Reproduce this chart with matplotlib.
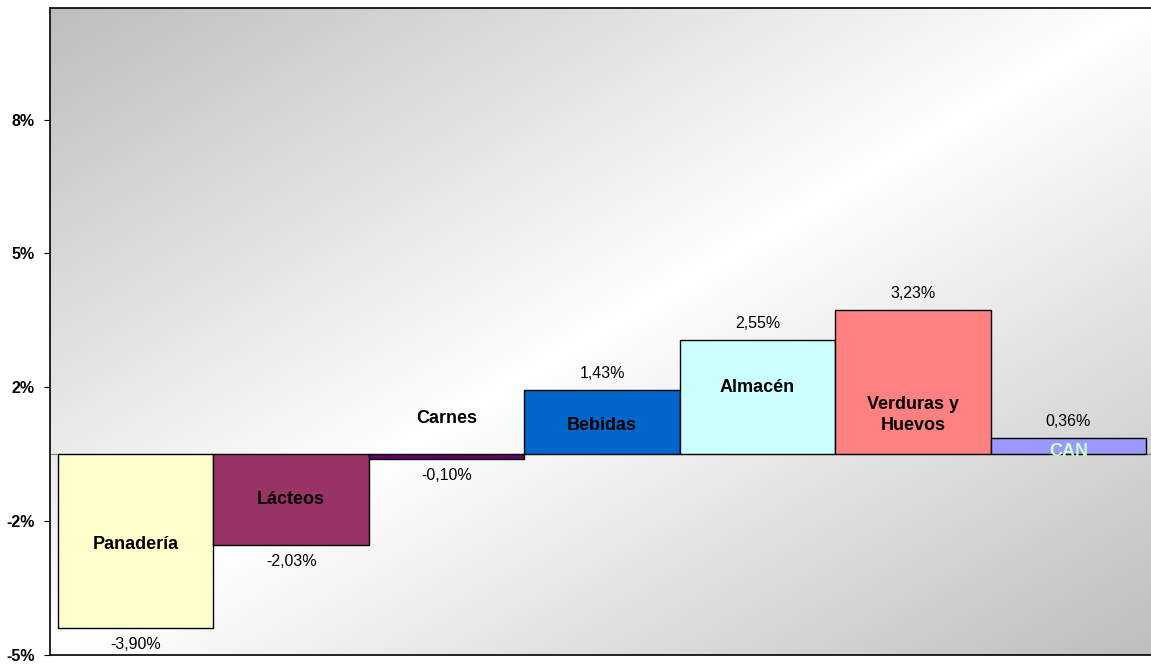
import numpy as np
import matplotlib.pyplot as plt
from matplotlib.colors import LinearSegmentedColormap

plt.rcParams["font.family"] = ["Liberation Sans", "DejaVu Sans"]

categories = ["Panadería", "Lácteos", "Carnes", "Bebidas", "Almacén", "Verduras y\nHuevos", "CAN"]
values = [-3.90, -2.03, -0.10, 1.43, 2.55, 3.23, 0.36]
colors = ["#FFFFCC", "#993366", "#660066", "#0066CC", "#CCFFFF", "#FF8080", "#9999FF"]
# where the category names sit (data units), as in the original
name_y = [-2.02, -1.01, 0.81, 0.65, 1.50, 0.88, 0.07]
name_colors = ["black", "black", "black", "black", "black", "black", "#CCFFCC"]
ytick_values = [-4.5, -1.5, 1.5, 4.5, 7.5]
ytick_labels = ["-5%", "-2%", "2%", "5%", "8%"]

fig = plt.figure(figsize=(11.51, 6.64), dpi=100)
ax = fig.add_axes([50 / 1151, 9 / 664, 1.0 - 50 / 1151, 1 - 17 / 664])

x = np.arange(len(categories))
unit = 155.4
ax.set_xlim(-0.5 - 8 / unit, 6.5 + 5 / unit)
ax.set_ylim(-4.5, 10)

# diagonal gradient background: gray corners, white in the middle
h, w = 200, 200
u = np.linspace(0, 1, w)[None, :]
v = np.linspace(0, 1, h)[:, None]
d = (u + v) / 2
shade = np.abs(d - 0.5) * 2
cmap = LinearSegmentedColormap.from_list("bg", ["#FFFFFF", "#BEBEBE"])
ax.imshow(shade, cmap=cmap, extent=[0, 1, 0, 1], transform=ax.transAxes,
          aspect="auto", zorder=0, vmin=0, vmax=1, interpolation="bilinear")

ax.axhline(0, color="#808080", linewidth=0.8, zorder=1)
ax.bar(x, values, width=1.0, color=colors, edgecolor="black", linewidth=1.0, zorder=2)

for i, (name, val) in enumerate(zip(categories, values)):
    ax.text(x[i], name_y[i], name, ha="center", va="center", fontsize=13,
            fontweight="bold", color=name_colors[i], zorder=3, linespacing=1.25)
    lbl = f"{val:.2f}%".replace(".", ",")
    ax.annotate(lbl, (x[i], val), xytext=(0, 12 if val > 0 else -12),
                textcoords="offset points", ha="center", va="center",
                fontsize=11.5, zorder=3)

ax.set_yticks(ytick_values)
ax.set_yticklabels(ytick_labels, fontweight="bold", fontsize=11.5)
ax.tick_params(axis="y", length=4, width=0.8, direction="out", pad=7)
ax.set_xticks([])
ax.spines["right"].set_visible(False)
for s in ["left", "top", "bottom"]:
    ax.spines[s].set_linewidth(1.2)

fig.savefig("out.png", dpi=100)
